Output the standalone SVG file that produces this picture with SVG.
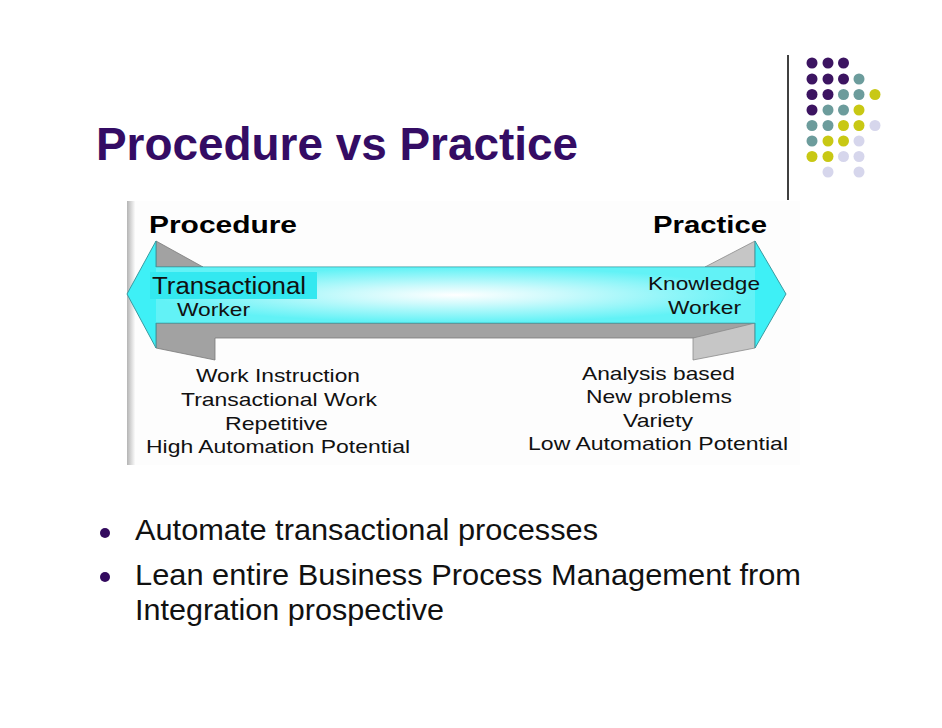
<svg xmlns="http://www.w3.org/2000/svg" width="942" height="728" viewBox="0 0 942 728">
<defs>
<style>
.title{font-family:"Liberation Sans",Arial,sans-serif;font-weight:bold;font-size:47px;fill:#340c64}
.hd{font-family:"Liberation Sans",Arial,sans-serif;font-weight:bold;font-size:24px;fill:#000}
.lb{font-family:"Liberation Sans",Arial,sans-serif;font-size:19px;fill:#111}
.wk{font-family:"Liberation Sans",Arial,sans-serif;font-size:18px;fill:#111}
.big{font-family:"Liberation Sans",Arial,sans-serif;font-size:23px;fill:#111}
.bul{font-family:"Liberation Sans",Arial,sans-serif;font-size:30px;fill:#111}
.p{fill:#3c1461}.t{fill:#6c9c9c}.y{fill:#c8c814}.l{fill:#d6d6ec}
.cy{fill:#3ef0f6;stroke:#3a9aa0;stroke-width:1}
.g1{fill:#a2a2a2;stroke:#7a7a7a;stroke-width:0.8}
.g2{fill:#c6c6c6;stroke:#8a8a8a;stroke-width:0.8}
</style>
<radialGradient id="bodyGrad" cx="0.5" cy="0.5" r="0.5">
<stop offset="0" stop-color="#ffffff"/>
<stop offset="0.35" stop-color="#ccfafc"/>
<stop offset="1" stop-color="#62f2f6"/>
</radialGradient>
<linearGradient id="strip" x1="0" y1="0" x2="1" y2="0">
<stop offset="0" stop-color="#b4b4b4"/>
<stop offset="1" stop-color="#fafafa"/>
</linearGradient>
</defs>
<rect width="942" height="728" fill="#ffffff"/>

<g id="decoration">
<line x1="788" y1="55" x2="788" y2="200" stroke="#000" stroke-width="1.5"/>
<circle class="p" cx="812" cy="63" r="5.5"/><circle class="p" cx="828" cy="63" r="5.5"/><circle class="p" cx="843.5" cy="63" r="5.5"/>
<circle class="p" cx="812" cy="79" r="5.5"/><circle class="p" cx="828" cy="79" r="5.5"/><circle class="p" cx="843.5" cy="79" r="5.5"/><circle class="t" cx="859" cy="79" r="5.5"/>
<circle class="p" cx="812" cy="94.5" r="5.5"/><circle class="p" cx="828" cy="94.5" r="5.5"/><circle class="t" cx="843.5" cy="94.5" r="5.5"/><circle class="t" cx="859" cy="94.5" r="5.5"/><circle class="y" cx="875" cy="94.5" r="5.5"/>
<circle class="p" cx="812" cy="110" r="5.5"/><circle class="t" cx="828" cy="110" r="5.5"/><circle class="t" cx="843.5" cy="110" r="5.5"/><circle class="y" cx="859" cy="110" r="5.5"/>
<circle class="t" cx="812" cy="125.5" r="5.5"/><circle class="t" cx="828" cy="125.5" r="5.5"/><circle class="y" cx="843.5" cy="125.5" r="5.5"/><circle class="y" cx="859" cy="125.5" r="5.5"/><circle class="l" cx="875" cy="125.5" r="5.5"/>
<circle class="t" cx="812" cy="141" r="5.5"/><circle class="y" cx="828" cy="141" r="5.5"/><circle class="y" cx="843.5" cy="141" r="5.5"/><circle class="l" cx="859" cy="141" r="5.5"/>
<circle class="y" cx="812" cy="156.5" r="5.5"/><circle class="y" cx="828" cy="156.5" r="5.5"/><circle class="l" cx="843.5" cy="156.5" r="5.5"/><circle class="l" cx="859" cy="156.5" r="5.5"/>
<circle class="l" cx="828" cy="172" r="5.5"/><circle class="l" cx="859" cy="172" r="5.5"/>
</g>

<g id="title">
<text class="title" x="96" y="160" textLength="482" lengthAdjust="spacingAndGlyphs">Procedure vs Practice</text>
</g>

<g id="picture">
<rect x="127" y="201" width="673" height="264" fill="#fdfdfd"/>
<rect x="127" y="201" width="8" height="264" fill="url(#strip)"/>
</g>

<g id="connectors">
<polygon class="g1" points="156,241 203,267 156,267"/>
<polygon class="g2" points="755,241 705,267 755,267"/>
<polygon class="g1" points="156,323 755,323 755,338 215,338 215,360 156,348"/>
<polygon class="g2" points="693,338 755,323 755,348 693,360"/>
<polygon class="cy" points="127,294 156,241 156,267 755,267 755,241 786,294 755,348 755,323 156,323 156,348"/>
<rect x="156" y="267.5" width="599" height="55" fill="url(#bodyGrad)"/>
</g>

<g id="node-procedure">
<text class="hd" x="149" y="233" textLength="148" lengthAdjust="spacingAndGlyphs">Procedure</text>
<rect x="150" y="272" width="167" height="27" fill="#33e8f0"/>
<text class="big" x="152" y="294" textLength="154" lengthAdjust="spacingAndGlyphs">Transactional</text>
<text class="wk" x="177" y="316" textLength="73" lengthAdjust="spacingAndGlyphs">Worker</text>
<text class="lb" x="196" y="382" textLength="164" lengthAdjust="spacingAndGlyphs">Work Instruction</text>
<text class="lb" x="181" y="406" textLength="196" lengthAdjust="spacingAndGlyphs">Transactional Work</text>
<text class="lb" x="225" y="430" textLength="103" lengthAdjust="spacingAndGlyphs">Repetitive</text>
<text class="lb" x="146" y="453" textLength="264" lengthAdjust="spacingAndGlyphs">High Automation Potential</text>
</g>

<g id="node-practice">
<text class="hd" x="653" y="233" textLength="114" lengthAdjust="spacingAndGlyphs">Practice</text>
<text class="lb" x="648" y="290" textLength="112" lengthAdjust="spacingAndGlyphs">Knowledge</text>
<text class="wk" x="668" y="314" textLength="73" lengthAdjust="spacingAndGlyphs">Worker</text>
<text class="lb" x="582" y="380" textLength="153" lengthAdjust="spacingAndGlyphs">Analysis based</text>
<text class="lb" x="586" y="403" textLength="146" lengthAdjust="spacingAndGlyphs">New problems</text>
<text class="lb" x="623" y="427" textLength="70" lengthAdjust="spacingAndGlyphs">Variety</text>
<text class="lb" x="528" y="450" textLength="260" lengthAdjust="spacingAndGlyphs">Low Automation Potential</text>
</g>

<g id="bullets">
<circle cx="105" cy="533" r="5" fill="#330a5e"/>
<circle cx="105" cy="577" r="5" fill="#330a5e"/>
<text class="bul" x="135" y="540" textLength="463" lengthAdjust="spacingAndGlyphs">Automate transactional processes</text>
<text class="bul" x="135" y="585" textLength="666" lengthAdjust="spacingAndGlyphs">Lean entire Business Process Management from</text>
<text class="bul" x="135" y="620" textLength="309" lengthAdjust="spacingAndGlyphs">Integration prospective</text>
</g>
</svg>
